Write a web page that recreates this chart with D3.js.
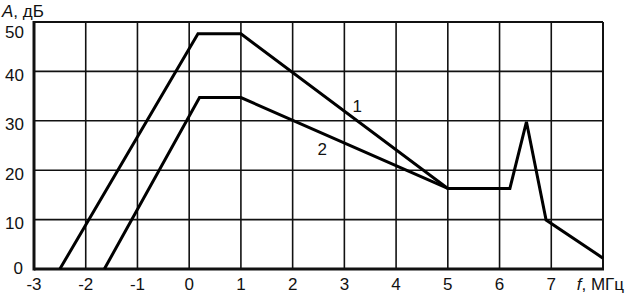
<!DOCTYPE html>
<html><head><meta charset="utf-8">
<script src="https://cdn.jsdelivr.net/npm/d3@7"></script>
<style>body{margin:0;background:#fff}svg{display:block}text{font-family:"Liberation Sans",Arial,sans-serif;fill:#111}</style>
</head><body><svg id="c" width="625" height="299"></svg>
<script>
const xTicks = [-3,-2,-1,0,1,2,3,4,5,6,7];
const yTicks = [0,10,20,30,40,50];
const curve1F = [-2.5, 0.17, 1.0, 5.0, 6.2, 6.52, 6.9, 8.0];
const curve1A = [0, 47.6, 47.6, 16.3, 16.3, 29.8, 9.9, 2.2];
const curve2F = [-1.64, 0.2, 1.0, 5.0];
const curve2A = [0, 34.7, 34.7, 16.3];
const curveLabels = ["1","2"];
const labelF = [3.25, 2.57];
const labelA = [32.7, 24];

const svg = d3.select("#c");
const x = d3.scaleLinear().domain([-3,8]).range([34,603]);
const y = d3.scaleLinear().domain([0,50]).range([269,22]);

// grid
svg.append("g").selectAll("line").data(d3.range(-2,8)).join("line")
  .attr("x1",d=>x(d)).attr("x2",d=>x(d)).attr("y1",y(0)).attr("y2",y(50))
  .attr("stroke","#111").attr("stroke-width",1.6);
svg.append("g").selectAll("line").data([10,20,30,40]).join("line")
  .attr("x1",x(-3)).attr("x2",x(8)).attr("y1",d=>y(d)).attr("y2",d=>y(d))
  .attr("stroke","#111").attr("stroke-width",1.6);
// frame
svg.append("line").attr("x1",x(-3)).attr("x2",x(8)).attr("y1",y(50)).attr("y2",y(50)).attr("stroke","#111").attr("stroke-width",2);
svg.append("line").attr("x1",x(8)).attr("x2",x(8)).attr("y1",y(0)).attr("y2",y(50)).attr("stroke","#111").attr("stroke-width",2);
svg.append("line").attr("x1",x(-3)).attr("x2",x(-3)).attr("y1",y(0)+1.5).attr("y2",y(50)-1).attr("stroke","#111").attr("stroke-width",3);
svg.append("line").attr("x1",x(-3)).attr("x2",x(8)+1).attr("y1",y(0)).attr("y2",y(0)).attr("stroke","#111").attr("stroke-width",3);

// curves
const line = d3.line().x(d=>x(d[0])).y(d=>y(d[1]));
[[curve1F,curve1A],[curve2F,curve2A]].forEach(([F,A])=>{
  svg.append("path").attr("d",line(F.map((f,i)=>[f,A[i]])))
    .attr("fill","none").attr("stroke","#000").attr("stroke-width",3).attr("stroke-linejoin","miter");
});
svg.append("g").selectAll("text").data(curveLabels).join("text")
  .attr("x",(d,i)=>x(labelF[i])).attr("y",(d,i)=>y(labelA[i])).attr("text-anchor","middle")
  .attr("dominant-baseline","middle").attr("font-size",17).text(d=>d);

// tick labels
svg.append("g").selectAll("text").data(xTicks).join("text")
  .attr("x",d=>x(d)).attr("y",290).attr("text-anchor","middle").attr("font-size",17).text(d=>d);
svg.append("g").selectAll("text").data(yTicks).join("text")
  .attr("x",d=>d===0?23:24).attr("y",d=>y(d)+(d===50?12:d===0?1:5)).attr("text-anchor","end")
  .attr("dominant-baseline","middle").attr("font-size",17).text(d=>d);

// axis titles
const t1 = svg.append("text").attr("x",2).attr("y",17).attr("font-size",17);
t1.append("tspan").attr("font-style","italic").text("A");
t1.append("tspan").text(", дБ");
const t2 = svg.append("text").attr("x",624).attr("y",290).attr("font-size",17).attr("text-anchor","end");
t2.append("tspan").attr("font-style","italic").text("f");
t2.append("tspan").text(", МГц");
</script></body></html>
